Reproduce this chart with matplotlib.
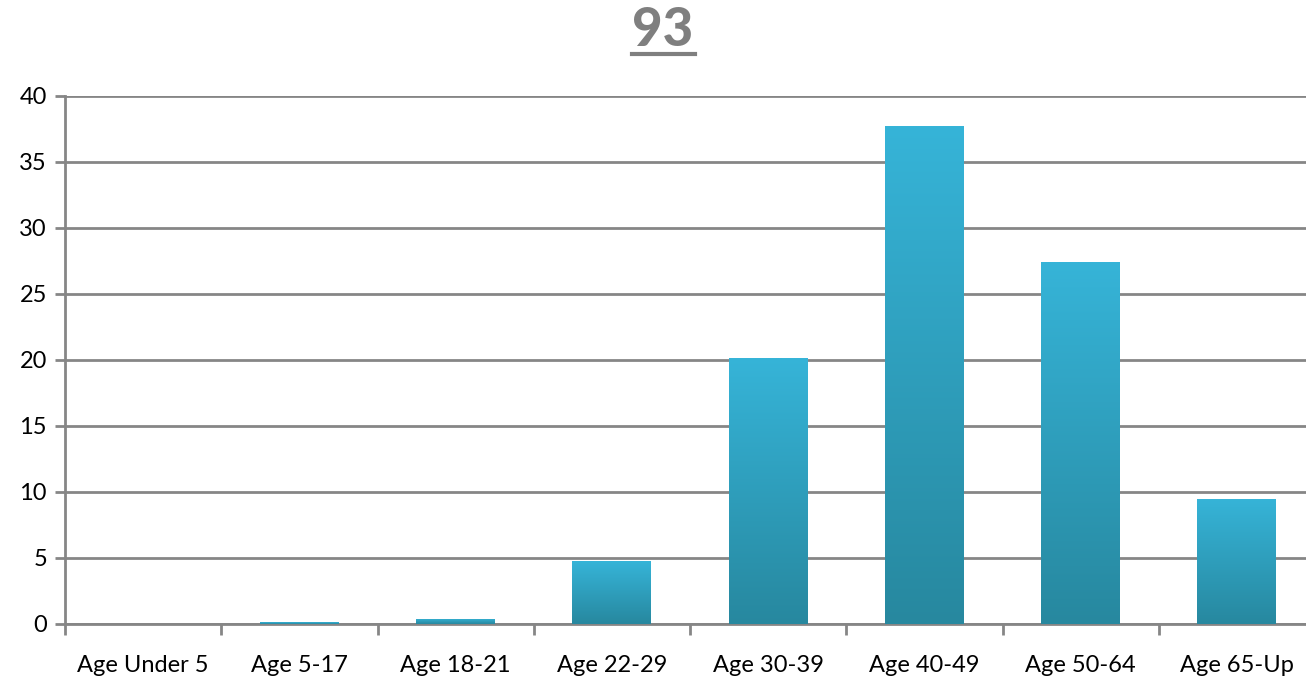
import numpy as np
import matplotlib.pyplot as plt
from matplotlib.colors import LinearSegmentedColormap

categories = ['Age Under 5', 'Age 5-17', 'Age 18-21', 'Age 22-29',
              'Age 30-39', 'Age 40-49', 'Age 50-64', 'Age 65-Up']
values = [0.0, 0.15, 0.38, 4.77, 20.15, 37.7, 27.4, 9.47]
yticks = [0, 5, 10, 15, 20, 25, 30, 35, 40]
title = '93'

grid_col = '#868686'
bar_cmap = LinearSegmentedColormap.from_list('bar', ['#27889F', '#36B4D8'])

fig = plt.figure(figsize=(13.06, 6.85), dpi=100)
ax = fig.add_axes([65 / 1306, 1 - 624 / 685, 1250 / 1306, 528 / 685])

x = np.arange(len(categories))
bars = ax.bar(x, values, width=0.505, color='none', zorder=3)

# vertical gradient in each bar, light at top, dark at bottom
grad = np.linspace(0, 1, 256).reshape(-1, 1)
for b in bars:
    h = b.get_height()
    if h <= 0:
        continue
    x0 = b.get_x()
    img = ax.imshow(grad, cmap=bar_cmap, origin='lower', aspect='auto',
                    extent=[x0, x0 + b.get_width(), 0, h], zorder=3)
    img.set_clip_path(b)

ax.set_xlim(-0.5, len(categories) - 0.5)
ax.set_ylim(0, 40)
ax.set_yticks(yticks)
ax.set_xticks(x)
ax.set_xticklabels(categories)
ax.set_xticks(np.arange(len(categories) + 1) - 0.5, minor=True)

ax.grid(axis='y', color=grid_col, linewidth=2, zorder=1)
ax.set_axisbelow(True)
for s in ['top', 'right']:
    ax.spines[s].set_visible(False)
ax.spines['left'].set_color(grid_col)
ax.spines['left'].set_linewidth(2)
ax.spines['bottom'].set_color(grid_col)
ax.spines['bottom'].set_linewidth(2)

font = 'Lato'
ax.tick_params(axis='y', length=7, width=2, color=grid_col, labelsize=17, pad=6)
ax.tick_params(axis='x', which='major', length=0, labelsize=17, pad=22)
ax.tick_params(axis='x', which='minor', length=8, width=2, color=grid_col)
for lbl in ax.get_xticklabels() + ax.get_yticklabels():
    lbl.set_fontfamily(font)
    lbl.set_color('black')

fig.text(663 / 1306, 1 - 30 / 685, title, ha='center', va='center',
         fontsize=38, fontweight='black', color='#7F7F7F',
         family=['Lato', 'DejaVu Sans'])
fig.add_artist(plt.Line2D([632 / 1306, 695 / 1306], [1 - 54 / 685, 1 - 54 / 685],
                          color='#7F7F7F', linewidth=3))

fig.savefig('out.png', dpi=100)
